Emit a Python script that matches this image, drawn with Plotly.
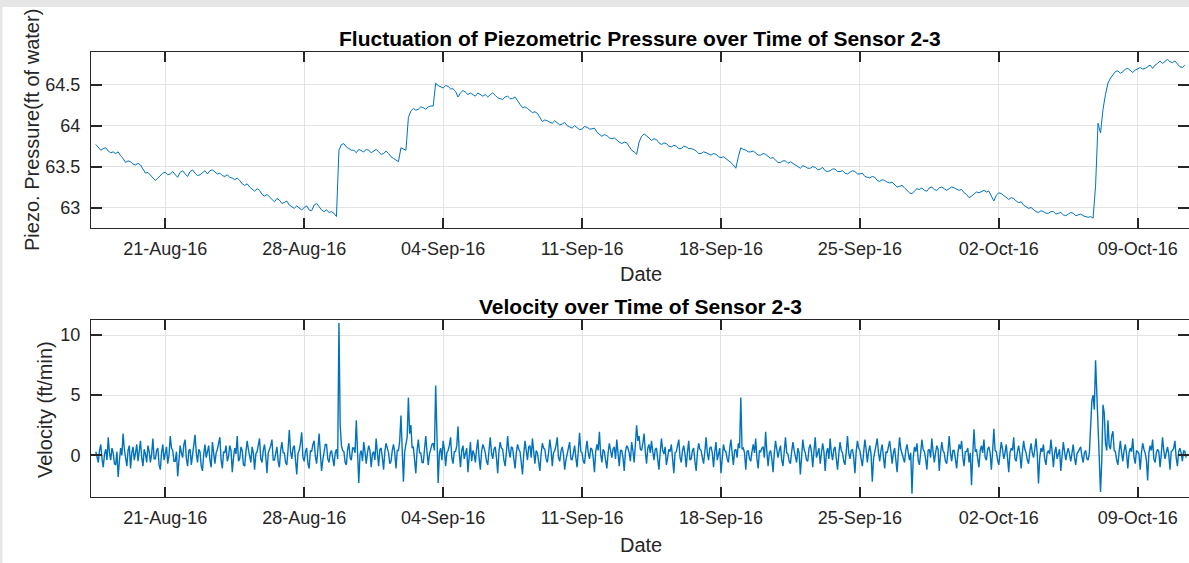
import pandas as pd
import plotly.graph_objects as go

# ---------------- data ----------------
# piezometric pressure (ft of water), 3-hourly from 2016-08-17 12:00 (one row per day)
pressure = [
    63.77, 63.74, 63.70, 63.72, 63.73, 63.69, 63.67, 63.68,
    63.66, 63.68, 63.63, 63.60, 63.55, 63.57, 63.56, 63.53,
    63.52, 63.54, 63.52, 63.47, 63.42, 63.43, 63.40, 63.37,
    63.33, 63.36, 63.39, 63.42, 63.43, 63.40, 63.41, 63.44,
    63.40, 63.37, 63.43, 63.45, 63.41, 63.38, 63.44, 63.46,
    63.42, 63.39, 63.40, 63.43, 63.45, 63.41, 63.45, 63.46,
    63.44, 63.41, 63.42, 63.39, 63.38, 63.40, 63.37, 63.36,
    63.34, 63.36, 63.33, 63.29, 63.27, 63.29, 63.25, 63.22,
    63.20, 63.23, 63.21, 63.16, 63.14, 63.16, 63.13, 63.10,
    63.07, 63.11, 63.09, 63.05, 63.06, 63.08, 63.03, 63.01,
    62.99, 63.02, 63.00, 62.97, 63.00, 63.02, 62.97, 62.96,
    63.03, 63.05, 63.01, 62.97, 62.95, 62.97, 62.94, 62.95,
    62.93, 62.89, 63.70, 63.77, 63.78, 63.74, 63.72, 63.70,
    63.70, 63.67, 63.71, 63.69, 63.68, 63.71, 63.70, 63.67,
    63.69, 63.71, 63.68, 63.65, 63.66, 63.69, 63.66, 63.62,
    63.60, 63.58, 63.56, 63.73, 63.71, 63.70, 64.10, 64.18,
    64.21, 64.19, 64.20, 64.23, 64.22, 64.20, 64.23, 64.24,
    64.24, 64.52, 64.49, 64.47, 64.46, 64.49, 64.48, 64.45,
    64.45, 64.42, 64.35, 64.40, 64.43, 64.41, 64.38, 64.40,
    64.38, 64.36, 64.40, 64.38, 64.36, 64.38, 64.35, 64.38,
    64.40, 64.37, 64.34, 64.33, 64.32, 64.35, 64.36, 64.33,
    64.33, 64.35, 64.30, 64.26, 64.22, 64.23, 64.21, 64.19,
    64.16, 64.17, 64.15, 64.10, 64.05, 64.07, 64.06, 64.04,
    64.03, 64.06, 64.04, 64.01, 64.02, 64.04, 64.00, 63.98,
    63.97, 64.00, 63.98, 63.95, 63.96, 63.99, 63.98, 63.96,
    63.96, 63.97, 63.92, 63.89, 63.87, 63.89, 63.88, 63.85,
    63.84, 63.85, 63.82, 63.80, 63.78, 63.80, 63.79, 63.75,
    63.70, 63.68, 63.65, 63.80, 63.87, 63.90, 63.88, 63.85,
    63.82, 63.84, 63.83, 63.79, 63.77, 63.79, 63.78, 63.75,
    63.74, 63.76, 63.75, 63.72, 63.72, 63.75, 63.74, 63.72,
    63.72, 63.71, 63.69, 63.66, 63.66, 63.68, 63.67, 63.65,
    63.64, 63.66, 63.65, 63.62, 63.61, 63.62, 63.60, 63.57,
    63.55, 63.52, 63.48, 63.62, 63.73, 63.71, 63.70, 63.68,
    63.68, 63.69, 63.66, 63.64, 63.64, 63.66, 63.65, 63.62,
    63.60, 63.61, 63.58, 63.55, 63.55, 63.57, 63.57, 63.54,
    63.56, 63.54, 63.52, 63.49, 63.48, 63.51, 63.50, 63.48,
    63.48, 63.50, 63.49, 63.46, 63.47, 63.49, 63.45, 63.44,
    63.45, 63.47, 63.47, 63.44, 63.44, 63.45, 63.42, 63.41,
    63.43, 63.45, 63.44, 63.41, 63.41, 63.42, 63.38, 63.37,
    63.36, 63.38, 63.37, 63.33, 63.32, 63.34, 63.33, 63.31,
    63.30, 63.31, 63.28, 63.25, 63.26, 63.27, 63.24, 63.21,
    63.18, 63.17, 63.20, 63.23, 63.22, 63.24, 63.21, 63.20,
    63.24, 63.25, 63.22, 63.21, 63.24, 63.25, 63.23, 63.21,
    63.23, 63.25, 63.24, 63.22, 63.21, 63.22, 63.18, 63.16,
    63.12, 63.14, 63.16, 63.19, 63.18, 63.20, 63.21, 63.19,
    63.20, 63.14, 63.08, 63.15, 63.18, 63.17, 63.15, 63.13,
    63.10, 63.12, 63.11, 63.08, 63.06, 63.07, 63.03, 63.01,
    62.99, 63.00, 62.97, 62.95, 62.94, 62.96, 62.95, 62.93,
    62.93, 62.95, 62.95, 62.92, 62.93, 62.94, 62.91, 62.90,
    62.92, 62.94, 62.93, 62.90, 62.91, 62.92, 62.90, 62.89,
    62.88, 62.89, 62.87, 63.26, 64.03, 63.91, 64.20, 64.38,
    64.52, 64.58, 64.62, 64.66, 64.67, 64.64, 64.66, 64.69,
    64.70, 64.68, 64.65, 64.68, 64.70, 64.71, 64.69, 64.70,
    64.72, 64.74, 64.70, 64.74, 64.76, 64.79, 64.76, 64.78,
    64.81, 64.78, 64.77, 64.79, 64.75, 64.72, 64.71, 64.74,
]

# velocity (ft/min), every 90 minutes from 2016-08-17 12:00 (one row per day)
velocity = [
    0.3, -0.2, -0.6, 0.4, 0.9, -0.3, -1.0, 0.1, 0.5, -0.4, 1.5, 0.2, -0.4, 0.6, 0.2, -0.7,
    -0.8, 0.3, -1.8, -0.5, 0.6, 0.0, 1.8, 0.5, -0.3, -0.9, 0.4, 0.8, -1.1, 0.2, 0.7, -0.4,
    0.2, 0.9, -0.5, 0.3, 1.2, -0.2, -0.9, 0.5, 0.1, -0.6, 0.8, 0.3, -0.6, 0.1, 1.4, -0.3,
    -0.3, 0.4, 0.6, -0.8, -1.2, 0.2, 0.9, -0.4, 0.3, 0.7, -0.7, 0.0, 1.6, 0.6, 0.4, -0.5,
    -0.5, 0.3, -1.75, -0.6, 0.8, 0.2, -0.2, 0.9, 1.3, -0.3, -0.9, 0.4, 0.5, -0.8, 0.1, 0.6,
    1.7, 0.2, -0.6, 0.5, 0.3, -0.9, -1.3, 0.1, 0.9, -0.2, 0.4, 0.8, -0.4, -1.0, 1.1, 0.3,
    -0.7, 0.2, 0.5, 1.0, 1.5, -0.4, -1.1, 0.3, 0.2, 0.8, -0.5, -0.1, 0.8, 0.4, -1.4, -0.2,
    0.6, 0.1, 1.6, -0.5, -0.3, 0.7, 0.4, -0.8, -0.9, 0.3, 1.2, 0.5, -0.2, -0.6, 0.7, 0.2,
    -1.2, 0.1, 0.3, 0.9, 1.4, -0.3, -0.6, 0.4, 0.9, -0.1, -1.5, 0.2, 0.5, 0.8, 1.3, -0.4,
    -0.4, 0.3, 0.7, -0.5, -1.0, 0.4, 1.1, 0.2, 0.2, -0.6, -0.8, 0.5, 2.1, 0.3, -0.3, 0.6,
    0.8, -0.4, -1.6, 0.2, 0.4, 1.0, 1.9, -0.2, -0.5, 0.3, 0.6, -0.7, -1.1, 0.4, 0.3, 0.9,
    1.2, -0.1, -0.7, 0.5, 1.8, 0.2, -1.3, -0.4, 0.5, 0.9, 0.9, -0.3, -0.6, 0.2, 0.4, -0.5,
    -0.9, 0.2, 0.5, -0.3, 11.0, 2.5, 0.8, 0.4, 0.3, -0.6, -0.8, 0.5, 1.0, -0.2, -0.4, 0.6,
    0.6, 0.2, 2.9, 0.3, -2.3, 0.1, 0.4, -0.5, 1.1, 0.3, -0.7, 0.2, 0.8, 0.4, -1.0, 0.1,
    0.3, -0.4, 1.4, 0.2, -0.9, 0.5, 0.6, -0.2, -1.2, 0.3, 1.0, 0.6, 0.2, -0.7, -0.5, 0.4,
    0.9, 0.2, -1.1, 0.4, 0.4, 1.2, 3.3, 0.5, -2.2, 0.3, 0.8, 1.5, 4.8, 1.8, 2.5, 0.6,
    0.7, -0.3, -1.5, 0.4, 1.3, 0.2, 0.2, -0.6, -0.6, 0.5, 1.6, 0.3, -0.8, 0.1, 0.5, 0.9,
    1.0, 0.4, 5.8, 0.6, -2.3, 0.2, 0.6, -0.4, 1.2, 0.5, -0.9, 0.2, 0.4, 0.8, 1.5, -0.2,
    -0.7, 0.3, 0.3, 0.8, 2.4, 0.2, -1.0, 0.4, 0.8, -0.3, 0.1, 0.6, -1.4, 0.2, 1.1, -0.5,
    0.4, 0.1, -0.6, 0.5, 1.3, -0.2, -1.2, 0.3, 0.9, 0.6, 0.2, -0.5, -0.8, 0.4, 1.5, 0.2,
    -0.3, 0.5, 0.7, -0.2, -1.5, 0.3, 1.1, 0.6, 0.5, -0.4, -0.9, 0.2, 1.6, 0.4, -0.2, 0.7,
    0.6, -0.3, -1.1, 0.2, 0.9, 0.5, 0.3, -0.6, -1.6, 0.1, 1.2, 0.4, -0.4, 0.7, 0.8, -0.2,
    1.4, 0.3, -0.7, 0.4, 0.2, -0.5, -1.3, 0.1, 1.0, 0.6, 0.5, -0.3, -0.6, 0.2, 1.3, 0.5,
    -0.9, 0.2, 0.4, 0.8, 1.5, -0.2, -0.5, 0.3, 0.7, 0.1, -1.2, -0.4, 0.3, 0.6, 1.1, -0.3,
    -0.4, 0.3, 0.8, -0.2, -1.0, 0.4, 1.86, 0.3, 0.2, -0.5, -0.7, 0.4, 1.2, 0.2, -0.3, 0.6,
    0.5, -0.2, -1.4, 0.3, 0.9, 0.4, 1.95, 0.1, -0.6, 0.5, 0.3, -0.4, -1.1, 0.2, 1.0, 0.4,
    -0.2, 0.5, 0.7, -0.3, 1.3, 0.2, -0.9, 0.4, 0.4, -0.2, -1.3, 0.3, 0.8, 0.6, 0.2, -0.5,
    1.1, 0.4, -0.6, 0.9, 2.5, 1.2, 1.6, 0.5, 0.4, 1.0, 1.8, 0.3, -0.7, 0.6, 0.9, 0.2,
    1.2, 0.3, -0.4, 0.5, 0.6, -0.3, -1.2, 0.2, 1.4, 0.4, 0.1, 0.7, -0.8, -0.2, 0.5, 0.3,
    0.9, -0.3, -1.5, 0.2, 0.3, 0.8, 1.3, -0.2, -0.6, 0.4, 0.8, 0.1, -1.0, 0.3, 1.2, -0.4,
    -0.3, 0.4, 0.6, -0.5, -1.3, 0.2, 1.0, 0.5, 0.4, -0.2, -0.7, 0.3, 1.5, 0.2, -0.4, 0.6,
    0.7, 0.2, -1.0, 0.3, 1.1, -0.4, 0.2, 0.6, -1.5, 0.1, 0.9, 0.4, 0.3, -0.3, -0.6, 0.5,
    1.3, 0.2, -0.8, 0.4, 0.5, -0.2, 1.0, 0.6, 4.8, 0.5, 0.6, 0.2, -1.2, 0.3, 0.4, -0.3,
    -0.5, 0.3, 0.9, 0.2, 1.4, -0.3, -1.1, 0.4, 0.3, 0.6, 0.7, -0.2, 1.95, 0.3, -0.9, 0.2,
    0.4, -0.3, -1.4, 0.2, 1.2, 0.5, -0.2, 0.4, 0.8, -0.4, -0.9, 0.3, 1.5, 0.2, 0.1, -0.5,
    -0.7, 0.3, 1.1, 0.4, -0.3, -0.6, 0.6, 0.2, -1.6, 0.3, 1.3, 0.5, 0.2, -0.4, -0.5, 0.6,
    0.9, 0.2, -1.0, 0.4, 1.5, -0.2, 0.3, 0.6, -0.7, 0.1, 1.0, 0.3, -1.3, 0.2, 0.6, -0.3,
    1.4, 0.2, -0.4, 0.5, 0.7, -0.3, -1.2, 0.1, 1.1, 0.4, 0.2, -0.5, -0.8, 0.3, 1.6, 0.2,
    -0.3, 0.4, 0.5, -0.2, -1.5, 0.3, 1.2, 0.6, 0.4, -0.3, -0.9, 0.2, 1.3, 0.5, -0.6, 0.3,
    0.8, 0.1, -2.2, -0.3, 0.3, 0.6, 1.4, 0.2, -0.5, 0.4, 0.9, -0.2, -1.1, 0.3, 0.2, 0.7,
    1.2, 0.3, -0.7, 0.2, 0.6, -0.4, -1.4, 0.2, 1.5, 0.5, 0.1, -0.3, -0.6, 0.4, 0.9, 0.2,
    -0.4, 0.2, -3.2, -0.2, 0.7, 0.3, 1.0, -0.4, -0.8, 0.2, 1.3, 0.5, 0.3, -0.3, -1.2, 0.4,
    0.5, -0.2, 1.4, 0.3, -0.6, 0.2, 0.8, 0.5, -1.3, 0.1, 1.1, 0.4, 0.2, -0.5, -0.7, 0.3,
    1.6, 0.2, -0.5, 0.4, 0.4, -0.3, -1.1, 0.2, 0.9, 0.5, 1.2, -0.2, -0.9, 0.3, 0.3, 0.6,
    -0.6, 0.2, -2.5, 0.1, 2.17, 0.3, 0.5, -0.3, -1.0, 0.4, 0.8, 0.2, 1.3, -0.2, -0.4, 0.5,
    0.7, 0.2, -1.2, 0.3, 2.2, 0.4, 0.3, -0.4, -0.8, 0.2, 1.1, 0.5, -0.3, 0.2, 0.9, -0.2,
    -1.4, 0.2, 0.6, 0.4, 1.5, -0.3, -0.5, 0.3, 0.8, 0.1, -1.1, 0.2, 1.2, 0.5, 0.2, -0.4,
    -0.7, 0.3, 1.0, 0.2, -0.2, 0.5, 1.4, 0.1, -2.35, -0.2, 0.6, 0.3, 0.9, -0.3, -0.8, 0.2,
    0.4, 0.1, 1.3, 0.3, -1.0, 0.2, 0.7, -0.3, 0.2, 0.5, -1.3, 0.1, 1.1, 0.3, -0.4, 0.2,
    0.6, 0.1, -0.5, 0.2, 0.9, -0.2, -0.8, 0.1, 0.3, 0.4, 0.7, -0.1, -0.6, 0.2, 0.4, -0.3,
    -0.4, 0.2, 3.2, 4.5, 5.0, 3.8, 7.9, 4.9, 2.0, 0.3, -3.05, -0.5, 4.2, 3.5, 1.0, 0.4,
    2.9, 0.8, 0.5, 1.6, 2.0, 0.4, 0.3, -0.4, -0.8, 0.3, 1.2, 0.2, -0.5, 0.4, 0.9, 0.1,
    -1.1, 0.2, 0.6, 0.3, 1.4, -0.2, -0.7, 0.4, 0.3, 0.1, -1.2, 0.2, 1.0, 0.5, 0.2, -0.4,
    -2.1, 0.2, 0.8, 0.4, 1.3, -0.3, -0.6, 0.2, 0.5, 0.3, -1.0, 0.1, 1.5, 0.4, -0.3, 0.2,
    0.7, 0.1, -1.2, 0.3, 0.4, 0.6, 1.2, -0.2, -0.9, 0.3, 0.6, 0.2, -0.5, 0.4, 0.3, -0.2,
]

start_time = "2016-08-17 12:00"
pressure_times = pd.date_range(start_time, periods=len(pressure), freq="3h")
velocity_times = pd.date_range(start_time, periods=len(velocity), freq="90min")

tick_dates = ["2016-08-21", "2016-08-28", "2016-09-04", "2016-09-11",
              "2016-09-18", "2016-09-25", "2016-10-02", "2016-10-09"]
tick_labels = ["21-Aug-16", "28-Aug-16", "04-Sep-16", "11-Sep-16",
               "18-Sep-16", "25-Sep-16", "02-Oct-16", "09-Oct-16"]
x_range = ["2016-08-17 06:10", "2016-10-11 14:00"]
p_ticks = [63, 63.5, 64, 64.5]
p_tick_labels = ["63", "63.5", "64", "64.5"]
p_range = [62.75, 64.9]
v_ticks = [0, 5, 10]
v_range = [-3.47, 11.25]

# ---------------- layout helpers ----------------
W, H = 1189, 563
ML, MR, MT, MB = 91, 0, 52, 66
PW, PH = W - ML - MR, H - MT - MB


def px(x):
    return (x - ML) / PW


def py(y):
    return (H - MB - y) / PH


FONT = "Liberation Sans, Arial, Helvetica, sans-serif"
AX = "#262626"
GRID = "#e3e3e3"
BLUE = "#0072BD"

fig = go.Figure()
fig.add_trace(go.Scatter(x=pressure_times, y=pressure, mode="lines",
                         line=dict(color=BLUE, width=1), xaxis="x", yaxis="y",
                         showlegend=False))
fig.add_trace(go.Scatter(x=velocity_times, y=velocity, mode="lines",
                         line=dict(color=BLUE, width=1.4), xaxis="x2", yaxis="y2",
                         showlegend=False))

xcommon = dict(type="date", range=x_range, tickvals=tick_dates, ticktext=tick_labels,
               showgrid=True, gridcolor=GRID, gridwidth=1,
               showline=True, linecolor=AX, linewidth=1, mirror="ticks",
               ticks="inside", ticklen=10, tickwidth=2, tickcolor=AX,
               tickfont=dict(family=FONT, size=18, color=AX),
               ticklabelstandoff=4, zeroline=False, fixedrange=True)
ycommon = dict(showgrid=True, gridcolor=GRID, gridwidth=1,
               showline=True, linecolor=AX, linewidth=1, mirror="ticks",
               ticks="inside", ticklen=11, tickwidth=2, tickcolor=AX,
               tickfont=dict(family=FONT, size=18, color=AX),
               ticklabelstandoff=6, zeroline=False, fixedrange=True)

fig.update_layout(
    width=W, height=H,
    margin=dict(l=ML, r=MR, t=MT, b=MB, pad=0),
    paper_bgcolor="white", plot_bgcolor="white",
    xaxis=dict(domain=[0, 1], anchor="y", **xcommon),
    yaxis=dict(domain=[py(228), 1], anchor="x", range=p_range,
               tickvals=p_ticks, ticktext=p_tick_labels, **ycommon),
    xaxis2=dict(domain=[0, 1], anchor="y2", **xcommon),
    yaxis2=dict(domain=[0, py(320)], anchor="x2", range=v_range,
                tickvals=v_ticks, **ycommon),
)

annotations = [
    dict(text="<b>Fluctuation of Piezometric Pressure over Time of Sensor 2-3</b>",
         x=px(640), y=py(38), font=dict(family=FONT, size=21, color="black")),
    dict(text="<b>Velocity over Time of Sensor 2-3</b>",
         x=px(640), y=py(306), font=dict(family=FONT, size=21, color="black")),
    dict(text="Date", x=px(641), y=py(274), font=dict(family=FONT, size=20, color=AX)),
    dict(text="Date", x=px(641), y=py(545), font=dict(family=FONT, size=20, color=AX)),
    dict(text="Piezo. Pressure(ft of water)", x=px(32), y=py(130), textangle=-90,
         font=dict(family=FONT, size=20, color=AX)),
    dict(text="Velocity (ft/min)", x=px(45), y=py(410), textangle=-90,
         font=dict(family=FONT, size=20, color=AX)),
]
for a in annotations:
    a.update(xref="paper", yref="paper", showarrow=False,
             xanchor="center", yanchor="middle")
fig.update_layout(annotations=annotations)

# grey frame of the original screenshot (top band and left strip)
fig.add_shape(type="rect", xref="paper", yref="paper",
              x0=px(0), x1=px(W), y0=py(7), y1=py(0),
              fillcolor="#e6e6e6", line=dict(width=0), layer="above")
fig.add_shape(type="rect", xref="paper", yref="paper",
              x0=px(0), x1=px(2.5), y0=py(H), y1=py(0),
              fillcolor="#e6e6e6", line=dict(width=0), layer="above")

fig.write_html("out.html")
